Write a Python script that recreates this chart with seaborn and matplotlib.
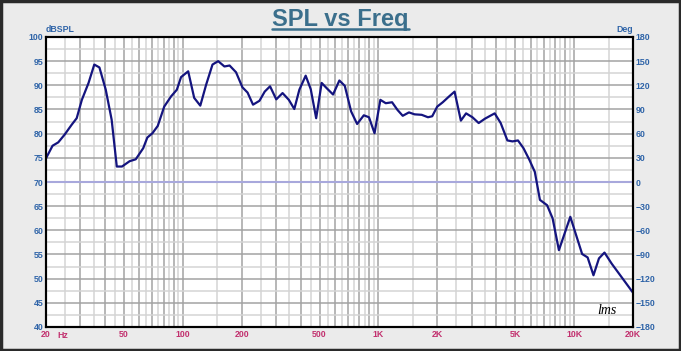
import matplotlib
matplotlib.use("Agg")
import matplotlib.pyplot as plt
import matplotlib.ticker as mticker
from matplotlib.lines import Line2D
from matplotlib.patches import Rectangle
import seaborn as sns
import pandas as pd

# SPL curve
freq_hz = [20, 21.6, 23.1, 24.9, 27.0, 28.7, 30.5, 33.0, 35.3, 37.5, 40.4, 43.3, 46.0,
           48.9, 53.5, 57.5, 62.8, 65.9, 70.0, 74.5, 80.4, 87.1, 93.3, 98.0, 106.6,
           114.4, 122.9, 131.6, 141.9, 151.7, 163.3, 173.5, 187.2, 201.7, 214.4,
           228.6, 246.6, 262.3, 279.3, 300.5, 323.6, 348.4, 371.6, 394.4, 424.8,
           450.9, 480.6, 512.6, 544.3, 586.2, 631.5, 673.0, 725.2, 778.2, 842.0,
           894.5, 955.2, 1023, 1090, 1174, 1252, 1331, 1432, 1530, 1664, 1791, 1883,
           1998, 2132, 2296, 2450, 2638, 2805, 3022, 3253, 3503, 3928, 4215, 4561,
           4841, 5166, 5511, 5906, 6298, 6689, 7276, 7763, 8364, 9564, 10991, 11723,
           12561, 13400, 14297, 15567, 20000]
spl_db = [74.9, 77.5, 78.2, 79.8, 81.8, 83.2, 87.0, 90.5, 94.3, 93.7, 89.1, 82.9, 73.2,
          73.2, 74.3, 74.7, 77.0, 79.2, 80.1, 81.6, 85.6, 87.7, 89.1, 91.7, 92.9,
          87.4, 85.8, 90.1, 94.3, 95.0, 93.9, 94.1, 92.7, 89.6, 88.5,
          86.0, 86.8, 88.7, 89.8, 87.1, 88.4, 87.0, 85.1, 89.1, 92.0,
          89.2, 83.2, 90.5, 89.4, 88.1, 91.0, 89.9, 84.6, 82.0, 83.8,
          83.4, 80.1, 87.0, 86.3, 86.5, 84.9, 83.7, 84.4, 84.0, 83.9, 83.4, 83.6,
          85.6, 86.5, 87.7, 88.7, 82.7, 84.2, 83.4, 82.2, 83.1, 84.2, 82.2, 78.6,
          78.4, 78.6, 77.0, 74.6, 72.1, 66.3, 65.2, 62.5, 55.9, 62.8, 55.1, 54.4,
          50.7, 54.2, 55.4, 53.1, 47.1]

spl_ticks = list(range(40, 101, 5))
phase_ticks = list(range(-180, 181, 30))
x_label_values = [20, 50, 100, 200, 500, 1000, 2000, 5000, 10000, 20000]
x_label_text = ["20", "50", "100", "200", "500", "1K", "2K", "5K", "10K", "20K"]

df = pd.DataFrame({"Freq": freq_hz, "SPL": spl_db})

sns.set_style("white")
plt.rcParams["font.family"] = ["Liberation Sans", "DejaVu Sans"]

fig = plt.figure(figsize=(6.81, 3.51), dpi=100, facecolor="#ebebeb")
ax = fig.add_axes([46 / 681, 24 / 351, 587 / 681, 290 / 351])
ax.set_facecolor("white")

# log grid: dark lines at n*10^k, light at (n+0.5)*10^k
majors = [n * 10 ** k for k in range(1, 5) for n in range(1, 10) if 20 <= n * 10 ** k <= 20000]
minors = [(n + 0.5) * 10 ** k for k in range(1, 5) for n in range(1, 10)
          if 20 <= (n + 0.5) * 10 ** k <= 20000]
labels = dict(zip(x_label_values, x_label_text))

sns.lineplot(data=df, x="Freq", y="SPL", ax=ax, color="#14147f", lw=1.6, zorder=5)
ax.set_xscale("log")
ax.set_xlim(20, 20000)
ax.set_ylim(40, 100)
ax.xaxis.set_major_locator(mticker.FixedLocator(majors))
ax.xaxis.set_minor_locator(mticker.FixedLocator(minors))
ax.xaxis.set_major_formatter(mticker.FuncFormatter(lambda v, p: labels.get(int(round(v)), "")))
ax.xaxis.set_minor_formatter(mticker.NullFormatter())
ax.set_yticks(spl_ticks)
ax.yaxis.set_minor_locator(mticker.MultipleLocator(2.5))
ax.grid(which="major", color="#a3a3a3", lw=1.1)
ax.grid(which="minor", color="#d4d4d4", lw=1.1)
ax.axhline(70, color="#a8a8dc", lw=1.5, zorder=3)
ax.set_axisbelow(True)
ax.set_xlabel("")
ax.set_ylabel("")

tick_font = dict(fontsize=6.3, fontweight="bold")
ax.tick_params(axis="both", which="both", length=0, pad=2)
for t in ax.get_yticklabels():
    t.set_color("#2f64a8")
    t.set(**tick_font)
for t in ax.get_xticklabels():
    t.set_color("#c2306e")
    t.set(**tick_font)

ax2 = ax.twinx()
ax2.set_ylim(-180, 180)
ax2.set_yticks(phase_ticks)
ax2.tick_params(axis="y", length=0, pad=2)
ax2.grid(False)
for t in ax2.get_yticklabels():
    t.set_color("#2f64a8")
    t.set(**tick_font)

for a in (ax, ax2):
    for s in a.spines.values():
        s.set_color("black")
        s.set_linewidth(1.5)

ax.text(0, 1.012, "dBSPL", transform=ax.transAxes, ha="left", va="bottom",
        color="#2f64a8", **tick_font)
ax.text(1, 1.012, "Deg", transform=ax.transAxes, ha="right", va="bottom",
        color="#2f64a8", **tick_font)
ax.text(0.019, -0.014, "Hz", transform=ax.transAxes, ha="left", va="top",
        color="#c2306e", **tick_font)
ax.text(0.955, 0.035, "lms", transform=ax.transAxes, ha="center", va="bottom",
        fontsize=10, style="italic", family="Liberation Serif", color="black")

title = fig.text(0.50, 0.945, "SPL vs Freq", ha="center", va="center",
                 fontsize=17, fontweight="bold", color="#3b6f8c")
fig.canvas.draw()
bb = title.get_window_extent().transformed(fig.transFigure.inverted())
fig.add_artist(Line2D([bb.x0, bb.x1], [bb.y0 + 0.004, bb.y0 + 0.004],
                      transform=fig.transFigure, color="#3b6f8c", lw=1.8))

fig.add_artist(Rectangle((0.002, 0.003), 0.996, 0.994, transform=fig.transFigure,
                         fill=False, edgecolor="#2a2a2a", lw=2.5))

fig.savefig("out.png", dpi=100, facecolor=fig.get_facecolor())
